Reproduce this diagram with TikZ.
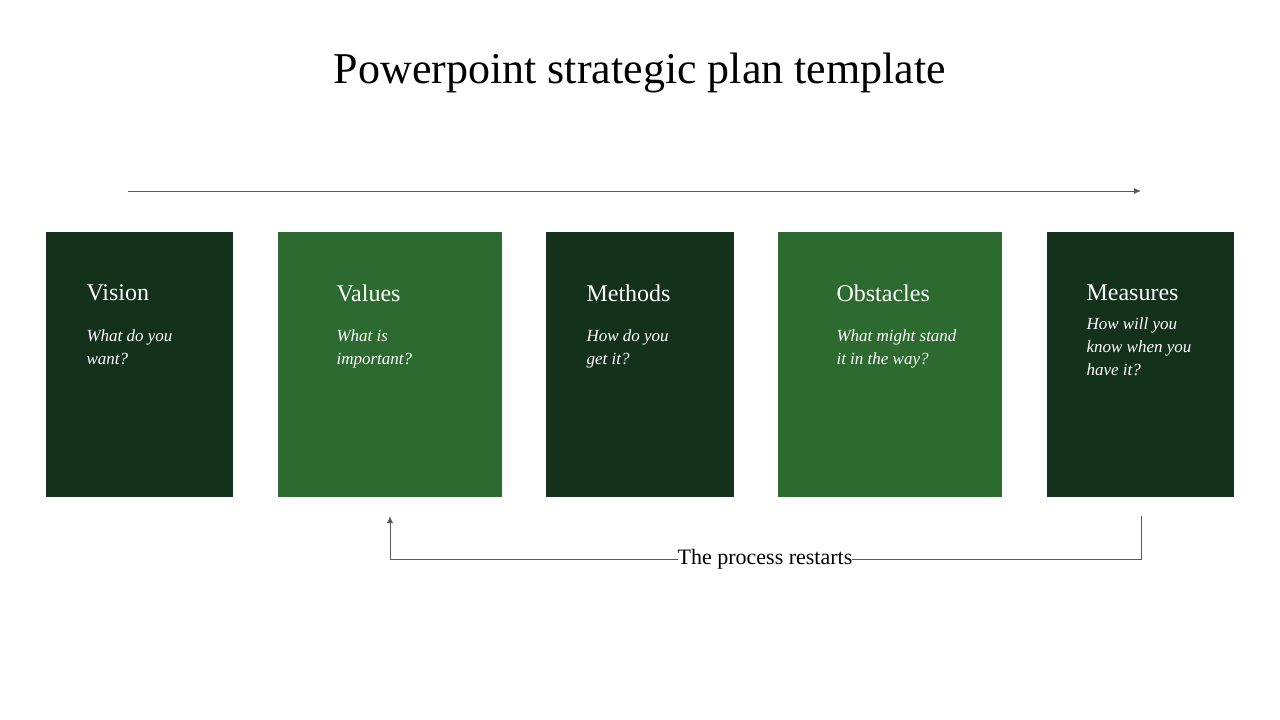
\documentclass[tikz,border=0pt]{standalone}
\usepackage{fontspec}
\setmainfont{Liberation Serif}
\definecolor{darkgrn}{RGB}{20,49,27}
\definecolor{lightgrn}{RGB}{45,106,47}
\definecolor{linegray}{RGB}{90,90,90}
\tikzset{
  card/.style={anchor=north west, inner sep=0pt, minimum height=265pt},
  head/.style={anchor=west, text=white, font=\fontsize{24}{28}\selectfont},
  sub/.style={anchor=north west, text=white, align=left, font=\itshape\fontsize{17}{23}\selectfont},
  flow/.style={draw=linegray, line width=0.9pt, -{Latex[length=7pt,width=6pt]}}
}
\usetikzlibrary{arrows.meta}
\begin{document}
\begin{tikzpicture}[x=1pt,y=-1pt]
\useasboundingbox (0,0) rectangle (1280,720);

% title
\node (title) at (640,73) {\fontsize{44}{50}\selectfont Powerpoint strategic plan template};

% cards
\node[card, minimum width=187pt, fill=darkgrn] (vision) at (46,232) {};
\node[card, minimum width=224pt, fill=lightgrn] (values) at (278,232) {};
\node[card, minimum width=188pt, fill=darkgrn] (methods) at (546,232) {};
\node[card, minimum width=224pt, fill=lightgrn] (obstacles) at (778,232) {};
\node[card, minimum width=187pt, fill=darkgrn] (measures) at (1047,232) {};

% texts
\node[head] (visionhd) at (83,293) {Vision};
\node[sub] (visionsub) at (83,326) {What do you\\want?};
\node[head] (valueshd) at (333,293) {Values};
\node[sub] (valuessub) at (333,326) {What is\\important?};
\node[head] (methodshd) at (583,293) {Methods};
\node[sub] (methodssub) at (583,326) {How do you\\get it?};
\node[head] (obstacleshd) at (833,293) {Obstacles};
\node[sub] (obstaclessub) at (833,326) {What might stand\\it in the way?};
\node[head] (measureshd) at (1083,293) {Measures};
\node[sub] (measuressub) at (1083,314) {How will you\\know when you\\have it?};

% top arrow
\coordinate (topa) at (128,191);
\coordinate (topb) at (1141,191);
\draw[flow] (topa) -- (topb);

% restart loop
\node (restart) at (765,559) {\fontsize{22}{26}\selectfont The process restarts};
\coordinate (loopa) at (1141,516);
\coordinate (loopb) at (390,516);
\draw[draw=linegray, line width=0.9pt] (loopa) |- ([xshift=-4pt]restart.east);
\draw[flow] ([xshift=4pt]restart.west) -| (loopb);
\end{tikzpicture}
\end{document}
